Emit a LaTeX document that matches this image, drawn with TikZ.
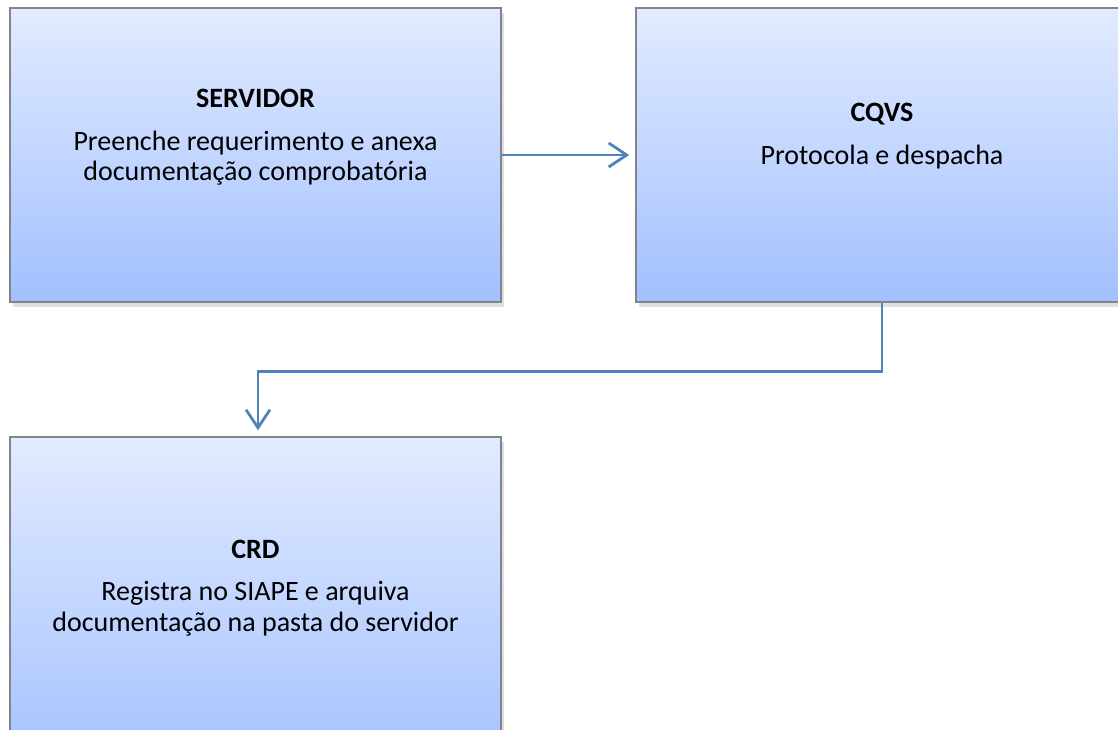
\documentclass[tikz,border=0pt]{standalone}
\usepackage{fontspec}
\setmainfont{Carlito}
\usetikzlibrary{arrows.meta,shadows}
\definecolor{boxtop}{RGB}{226,235,255}
\definecolor{boxbot}{RGB}{162,192,255}
\definecolor{boxline}{RGB}{130,132,140}
\definecolor{arrowblue}{RGB}{79,129,189}
\begin{document}
\begin{tikzpicture}[x=1pt,y=-1pt,
  box/.style={draw=boxline, line width=1.6pt, top color=boxtop, bottom color=boxbot,
    inner sep=0pt, drop shadow={shadow xshift=3pt, shadow yshift=-5pt, opacity=0.25}},
  titletext/.style={font=\fontsize{28}{34}\selectfont\bfseries, anchor=base, inner sep=0pt},
  bodytext/.style={font=\fontsize{28}{34}\selectfont, anchor=base, inner sep=0pt},
  conn/.style={draw=arrowblue, line width=2.8pt, -{Straight Barb[length=18pt,width=24pt]}}]
\useasboundingbox (0,0) rectangle (1118,729);
\clip (0,0) rectangle (1118,729);
% boxes
\node[box, minimum width=491pt, minimum height=294pt] (s) at (255.5,155) {};
\node[box, minimum width=492pt, minimum height=294pt] (c) at (882,155) {};
\node[box, minimum width=491pt, minimum height=340pt] (d) at (255.5,607) {};
% texts
\node[titletext] (s1) at (255.5,107) {SERVIDOR};
\node[bodytext] (s2) at (255.5,150) {Preenche requerimento e anexa};
\node[bodytext] (s3) at (255.5,180) {documentação comprobatória};
\node[titletext] (c1) at (882,121) {CQVS};
\node[bodytext] (c2) at (882,164) {Protocola e despacha};
\node[titletext] (d1) at (255.5,558) {CRD};
\node[bodytext] (d2) at (255.5,600) {Registra no SIAPE e arquiva};
\node[bodytext] (d3) at (255.5,631) {documentação na pasta do servidor};
% connectors
\draw[conn, shorten >=6pt] (s.east) -- (c.west);
\draw[conn, shorten >=6pt] (c.south) -- ++(0,69) -| ([xshift=2.5pt]d.north);
\end{tikzpicture}
\end{document}
